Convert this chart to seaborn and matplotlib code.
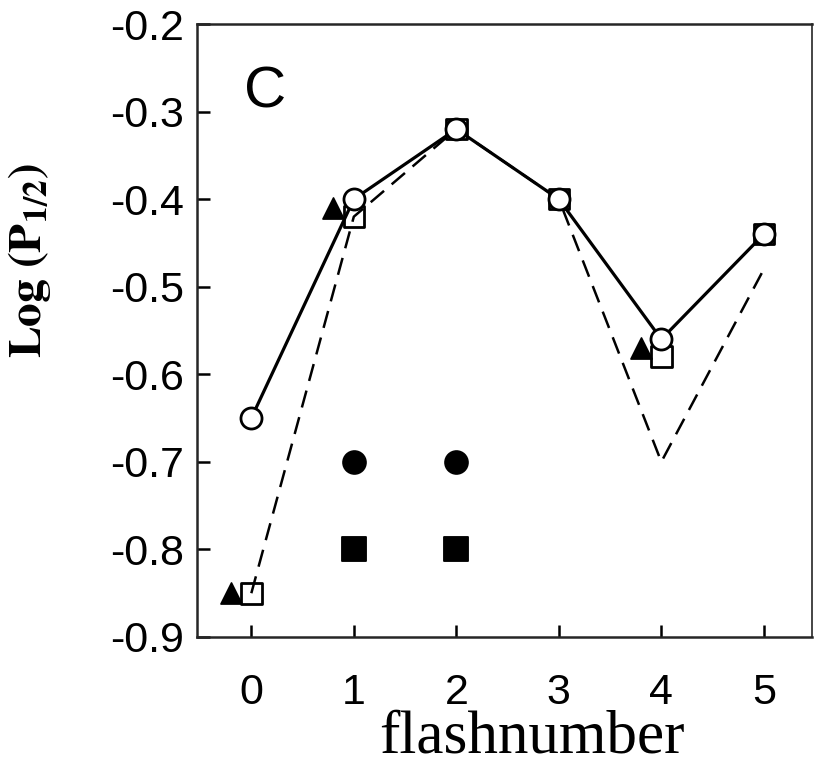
#Importation des librairies
import seaborn as sns
import matplotlib.pyplot as plt

#Les données
flash = [0, 1, 2, 3, 4, 5]
open_circle = [-0.65, -0.40, -0.32, -0.40, -0.56, -0.44]
open_square = [-0.85, -0.42, -0.32, -0.40, -0.58, -0.44]
dashed_fit = [-0.85, -0.42, -0.32, -0.40, -0.70, -0.48]
tri_x = [-0.2, 0.8, 3.8]
tri_y = [-0.85, -0.41, -0.57]
dot_x = [1, 2]
filled_circle = [-0.70, -0.70]
filled_square = [-0.80, -0.80]
y_ticks = [-0.9, -0.8, -0.7, -0.6, -0.5, -0.4, -0.3, -0.2]

sns.set_style("ticks")
plt.rcParams['font.family'] = ['Liberation Sans', 'DejaVu Sans']
plt.rcParams['mathtext.fontset'] = 'stix'
plt.rcParams['text.color'] = 'black'
plt.rcParams['axes.labelcolor'] = 'black'

fig = plt.figure(figsize=(8.15, 7.7), dpi=100)
ax = fig.add_axes([197 / 815, 133 / 770, 615 / 815, 613 / 770])

# 1.Ligne pointillée puis ligne pleine
sns.lineplot(x=flash, y=dashed_fit, color='black', linewidth=1.8,
             linestyle=(0, (7, 4)), ax=ax, zorder=1)
sns.lineplot(x=flash, y=open_circle, color='black', linewidth=2.3, ax=ax, zorder=2)

# 2.Les symboles
sns.scatterplot(x=flash, y=open_square, marker='s', s=220, facecolor='none',
                edgecolor='black', linewidth=2, ax=ax, zorder=3)
sns.scatterplot(x=flash, y=open_circle, marker='o', s=230, facecolor='white',
                edgecolor='black', linewidth=2, ax=ax, zorder=4)
sns.scatterplot(x=tri_x, y=tri_y, marker='^', s=230, color='black',
                edgecolor='black', ax=ax, zorder=3)
sns.scatterplot(x=dot_x, y=filled_circle, marker='o', s=270, color='black',
                edgecolor='black', ax=ax, zorder=3)
sns.scatterplot(x=dot_x, y=filled_square, marker='s', s=280, color='black',
                edgecolor='black', ax=ax, zorder=3)

# 3.Les axes
ax.set_xlim(-0.53, 5.47)
ax.set_ylim(-0.9, -0.2)
ax.set_xticks(flash)
ax.set_yticks(y_ticks)
ax.set_yticklabels([f"{v:.1f}" for v in y_ticks])
ax.tick_params(direction='in', length=9, width=1.8, labelsize=31, colors='black')
ax.tick_params(axis='y', pad=9)
ax.tick_params(axis='x', pad=26)
for side in ['left', 'bottom', 'top']:
    ax.spines[side].set_linewidth(1.8)
ax.spines['right'].set_linewidth(1.2)

ax.set_xlabel("flashnumber", fontsize=44, family='Liberation Serif', va='baseline')
ax.xaxis.set_label_coords(0.545, -0.189)
ax.set_ylabel(r"$\mathbf{Log\ (P_{1/2})}$", fontsize=34)
ax.yaxis.set_label_coords(-0.234, 0.615)

ax.text(0.13, -0.278, "C", fontsize=42, ha='center', va='center')

plt.savefig("out.png", dpi=100)
